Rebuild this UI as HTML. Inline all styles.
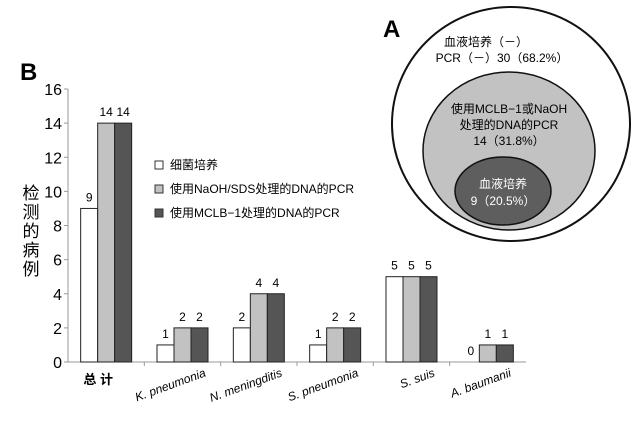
<!DOCTYPE html>
<html><head><meta charset="utf-8"><style>
body{margin:0;background:#fff;}
svg text{font-family:"Liberation Sans","Noto Sans CJK SC",sans-serif;}
</style></head><body>
<svg width="640" height="418" viewBox="0 0 640 418" xmlns="http://www.w3.org/2000/svg">
<g id="venn">
<ellipse cx="511" cy="124" rx="119" ry="117" fill="#fff" stroke="#111" stroke-width="2"/>
<ellipse cx="509" cy="151" rx="86" ry="79" fill="#c2c2c2" stroke="#111" stroke-width="1.5"/>
<ellipse cx="503" cy="191" rx="48" ry="34" fill="#5e5e5e" stroke="#111" stroke-width="1.5"/>
<text x="383" y="37" font-size="24" font-weight="bold">A</text>
<text x="486" y="46" font-size="12" text-anchor="middle">血液培养（－）</text>
<text x="502" y="62" font-size="12" text-anchor="middle">PCR（－）30（68.2%）</text>
<text x="509" y="113" font-size="12" text-anchor="middle">使用MCLB−1或NaOH</text>
<text x="509" y="129" font-size="12" text-anchor="middle">处理的DNA的PCR</text>
<text x="509" y="145" font-size="12" text-anchor="middle">14（31.8%）</text>
<text x="503" y="188" font-size="12" text-anchor="middle" fill="#fff">血液培养</text>
<text x="503" y="205" font-size="12" text-anchor="middle" fill="#fff">9（20.5%）</text>
</g>
<text x="20" y="80" font-size="24" font-weight="bold">B</text>
<g id="chart"></g>
<g font-size="17">
<text x="31" y="199" text-anchor="middle">检</text>
<text x="31" y="218" text-anchor="middle">测</text>
<text x="31" y="237" text-anchor="middle">的</text>
<text x="31" y="256" text-anchor="middle">病</text>
<text x="31" y="275" text-anchor="middle">例</text>
</g>
<g font-size="12">
<rect x="155" y="161" width="8" height="8" fill="#fff" stroke="#333"/>
<text x="170" y="169">细菌培养</text>
<rect x="155" y="185" width="8" height="8" fill="#c2c2c2" stroke="#333"/>
<text x="170" y="193">使用NaOH/SDS处理的DNA的PCR</text>
<rect x="155" y="209" width="8" height="8" fill="#555" stroke="#333"/>
<text x="170" y="217">使用MCLB−1处理的DNA的PCR</text>
</g>
</svg>
<script>
const categories=["总 计","K. pneumonia","N. meningditis","S. pneumonia","S. suis","A. baumanii"];
const culture=[9,1,2,1,5,0];
const naoh=[14,2,4,2,5,1];
const mclb=[14,2,4,2,5,1];
const yTicks=[0,2,4,6,8,10,12,14,16];
const NS="http://www.w3.org/2000/svg";
const g=document.getElementById('chart');
const x0=68,x1=526,y0=362,y1=89,ymax=16;
const band=(x1-x0)/categories.length,bw=17;
const y=v=>y0-(v/ymax)*(y0-y1);
function mk(t,a){const e=document.createElementNS(NS,t);for(const k in a)e.setAttribute(k,a[k]);g.appendChild(e);return e;}
let ax=mk('line',{x1:x0,y1:y0,x2:x0,y2:y1,stroke:'#999'});


let bx=mk('line',{x1:x0-4,y1:y0,x2:x1,y2:y0,stroke:'#999'});


yTicks.forEach(t=>{
 let l=mk('line',{x1:x0-4,x2:x0,y1:y(t),y2:y(t),stroke:'#999'});
 
 
 let tx=mk('text',{x:x0-6,y:y(t)+6,'font-size':16,'text-anchor':'end'});
 tx.textContent=t;
 
 
});
for(let i=1;i<categories.length;i++){
 let l=mk('line',{x1:x0+band*i,x2:x0+band*i,y1:y0,y2:y0+4,stroke:'#999'});
 
 
}
const series=[[culture,'#fff'],[naoh,'#c2c2c2'],[mclb,'#555']];
categories.forEach((c,i)=>{
 const cx=x0+band*(i+0.5);
 series.forEach((s,j)=>{
  const v=s[0][i],bx=cx-1.5*bw+j*bw;
  if(v>0){
   let r=mk('rect',{x:bx,y:y(v),width:bw,height:y0-y(v),fill:s[1],stroke:'#222','stroke-width':1});
   
   
  }
  let t=mk('text',{x:bx+bw/2,y:y(v)-7,'font-size':12,'text-anchor':'middle'});
  t.textContent=v;
  
  
 });
 let lt;
 if(i===0){lt=mk('text',{x:cx-8,y:y0+22,'font-size':13,'font-weight':'bold','text-anchor':'middle'});}
 else{lt=mk('text',{x:cx+24,y:y0+14,'font-size':12,'font-style':'italic','text-anchor':'end',transform:`rotate(-20 ${cx+24} ${y0+14})`});}
 lt.textContent=c;
 
 
});
</script>
</body></html>
